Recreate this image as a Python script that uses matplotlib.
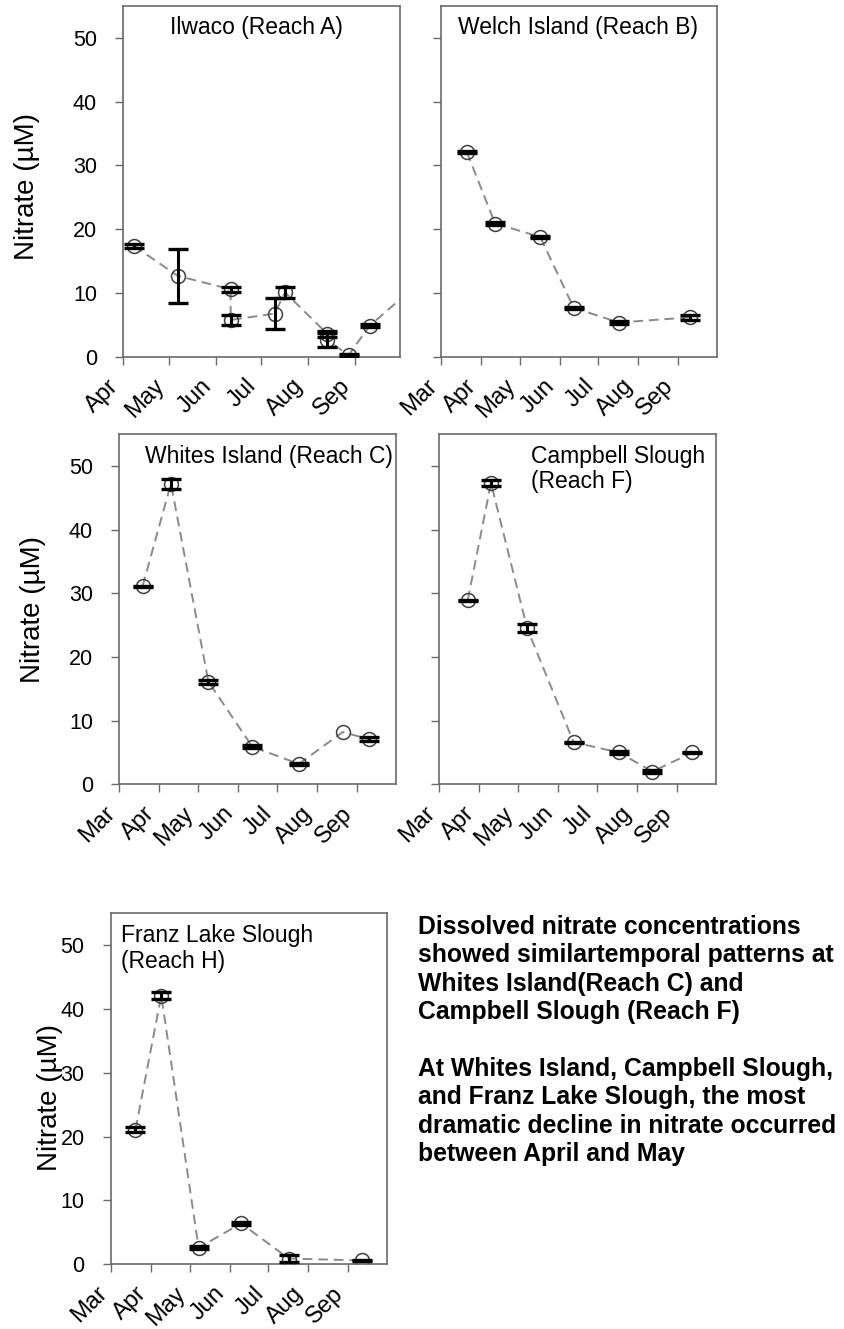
import numpy as np
import matplotlib
matplotlib.use('Agg')
import matplotlib.pyplot as plt

plt.rcParams['font.family'] = ['Liberation Sans', 'DejaVu Sans']

# month starts as day of year
month_names = ['Mar', 'Apr', 'May', 'Jun', 'Jul', 'Aug', 'Sep']
month_days = [60, 91, 121, 152, 182, 213, 244]

# Ilwaco (Reach A)
ilwaco_day = [98, 127, 162, 162, 191, 198, 226, 226, 240, 254, 288]
ilwaco_no3 = [17.4, 12.7, 10.6, 5.8, 6.8, 10.1, 3.6, 2.6, 0.3, 4.9, 11.9]
ilwaco_err = [0.3, 4.2, 0.4, 0.8, 2.4, 0.9, 0.4, 1.1, 0.1, 0.2, 0.2]

# Welch Island (Reach B)
welch_day = [80, 102, 137, 163, 198, 253]
welch_no3 = [32.1, 20.9, 18.8, 7.7, 5.4, 6.2]
welch_err = [0.2, 0.2, 0.2, 0.2, 0.3, 0.4]

# Whites Island (Reach C)
whites_day = [78, 100, 129, 163, 199, 233, 253]
whites_no3 = [31.1, 47.2, 16.1, 5.9, 3.2, 8.2, 7.1]
whites_err = [0.1, 0.8, 0.3, 0.2, 0.2, np.nan, 0.3]

# Campbell Slough (Reach F)
campbell_day = [82, 100, 128, 164, 199, 225, 256]
campbell_no3 = [28.9, 47.3, 24.5, 6.6, 5.0, 2.0, 5.0]
campbell_err = [0.1, 0.5, 0.6, 0.1, 0.2, 0.2, 0.1]

# Franz Lake Slough (Reach H)
franz_day = [79, 99, 128, 161, 198, 255]
franz_no3 = [21.1, 42.1, 2.6, 6.4, 0.9, 0.6]
franz_err = [0.4, 0.5, 0.2, 0.2, 0.6, 0.1]

W, H = 844, 1329
fig = plt.figure(figsize=(W / 100, H / 100), dpi=100)


def make_ax(x0, x1, y0, y1):
    return fig.add_axes([x0 / W, 1 - y1 / H, (x1 - x0) / W, (y1 - y0) / H])


def draw(ax, day, no3, err, first, show_y, title, tx, ty, ha='center'):
    ax.plot(day, no3, ls=(0, (5, 3)), color='#8a8a8a', lw=1.4, zorder=1)
    ax.plot(day, no3, 'o', ms=10, mfc='none', mec='#404040', mew=1.1, zorder=2)
    ax.errorbar(day, no3, yerr=err, fmt='none', ecolor='black',
                elinewidth=2.2, capsize=7, capthick=2.4, zorder=3)
    ax.set_xlim(month_days[first], 274)
    ax.set_ylim(0, 55)
    ax.set_xticks(month_days[first:])
    ax.set_xticklabels(month_names[first:], rotation=45, ha='right', fontsize=17)
    ax.set_yticks([0, 10, 20, 30, 40, 50])
    if show_y:
        ax.tick_params(axis='y', labelsize=15.5)
        ax.set_ylabel('Nitrate (µM)', fontsize=20)
    else:
        ax.set_yticklabels([])
    for s in ax.spines.values():
        s.set_color('#6a6a6a')
        s.set_linewidth(1.2)
    ax.tick_params(direction='out', length=6, width=1, color='#6a6a6a')
    ax.tick_params(axis='y', pad=13)
    ax.tick_params(axis='x', pad=7)
    ax.text(tx, ty, title, transform=ax.transAxes, ha=ha, va='top',
            fontsize=16.5, linespacing=1.15)


axA = make_ax(123.3, 400, 5.7, 357)
draw(axA, ilwaco_day, ilwaco_no3, ilwaco_err, 1, True,
     'Ilwaco (Reach A)', 0.482, 0.97)
axA.yaxis.set_label_coords(-0.30, 0.485)

axB = make_ax(441, 716.7, 5.7, 357)
draw(axB, welch_day, welch_no3, welch_err, 0, False,
     'Welch Island (Reach B)', 0.498, 0.97)

axC = make_ax(119.3, 395.7, 434, 784.3)
draw(axC, whites_day, whites_no3, whites_err, 0, True,
     'Whites Island (Reach C)', 0.54, 0.97)
axC.yaxis.set_label_coords(-0.265, 0.5)

axD = make_ax(439.3, 715.7, 434, 784.3)
draw(axD, campbell_day, campbell_no3, campbell_err, 0, False,
     'Campbell Slough\n(Reach F)', 0.332, 0.97, ha='left')

axE = make_ax(111, 386.7, 913.3, 1264.3)
draw(axE, franz_day, franz_no3, franz_err, 0, True,
     'Franz Lake Slough\n(Reach H)', 0.035, 0.97, ha='left')
axE.yaxis.set_label_coords(-0.175, 0.474)

note = ('Dissolved nitrate concentrations\n'
        'showed similartemporal patterns at\n'
        'Whites Island(Reach C) and\n'
        'Campbell Slough (Reach F)\n'
        '\n'
        'At Whites Island, Campbell Slough,\n'
        'and Franz Lake Slough, the most\n'
        'dramatic decline in nitrate occurred\n'
        'between April and May')
fig.text(418 / W, 1 - 915 / H, note, ha='left', va='top', fontsize=17.8,
         fontweight='bold', linespacing=1.23)

fig.savefig('out.png', dpi=100)
